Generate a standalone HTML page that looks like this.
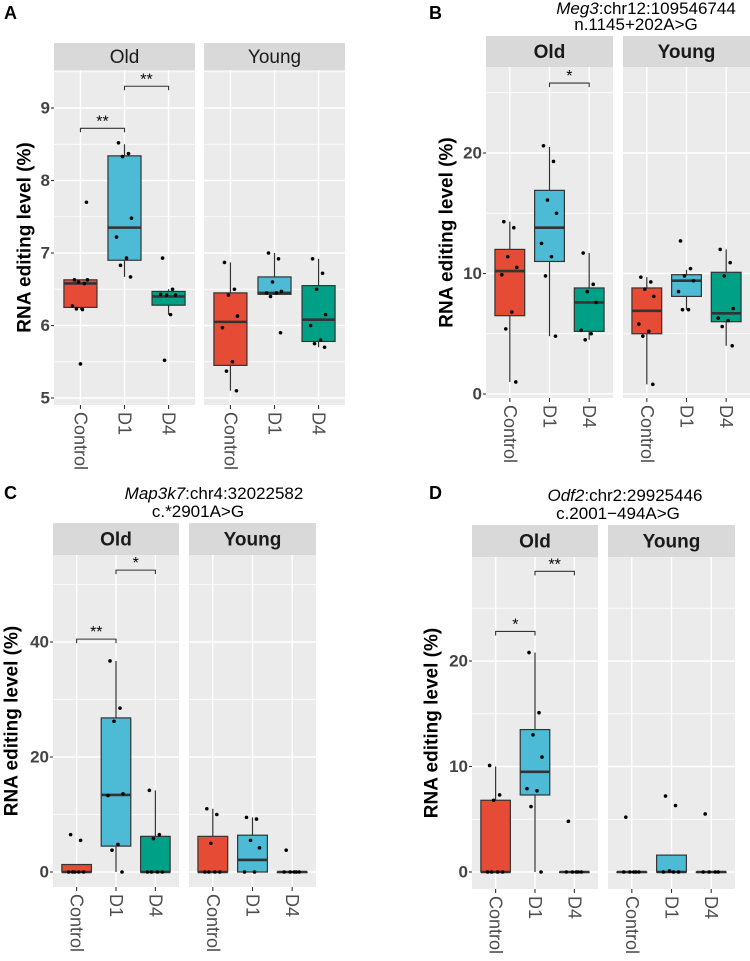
<!DOCTYPE html>
<html><head><meta charset="utf-8">
<style>
html,body{margin:0;padding:0;background:#fff;}
svg{display:block;font-family:"Liberation Sans",Arial,sans-serif;}
</style></head>
<body>
<svg id="fig" width="750" height="961" viewBox="0 0 750 961" xmlns="http://www.w3.org/2000/svg"></svg>
<script>
// ---------- data ----------
const groups = ["Old","Young"];
const categories = ["Control","D1","D4"];
// box stats: [lower whisker, q1, median, q3, upper whisker] per facet x category
const boxA = [[[6.22,6.25,6.58,6.63,6.63],[6.67,6.9,7.35,8.34,8.5],[6.15,6.28,6.4,6.47,6.5]],
              [[5.1,5.45,6.05,6.45,6.87],[6.42,6.43,6.45,6.67,7.0],[5.7,5.78,6.08,6.55,6.92]]];
const ptsA = [[[6.63,6.58,6.6,6.63,6.27,6.22,6.23,7.7,5.47],[8.52,8.37,8.33,7.48,7.22,6.93,6.83,6.67],[6.93,6.5,6.42,6.42,6.43,6.15,5.52]],
              [[6.87,6.5,6.42,6.13,5.97,5.5,5.37,5.1],[7.0,6.92,6.6,6.47,6.45,6.45,6.4,5.9],[6.92,6.72,6.5,6.15,6.0,5.8,5.75,5.7]]];
const boxB = [[[1,6.5,10.2,12,14.3],[4.8,11,13.8,16.9,20.5],[4.5,5.2,7.6,8.8,11.7]],
              [[0.8,5,6.9,8.8,9.7],[7,8.1,9.4,9.9,10.3],[4,6,6.7,10.1,12]]];
const ptsB = [[[14.3,13.8,11.4,10.5,9.9,6.8,5.4,1],[20.6,19.3,16.1,15,12.5,11.4,9.8,4.8],[11.7,9.1,8.5,7.6,5.3,5.0,4.5]],
              [[9.7,9.3,8.7,8.1,5.8,5.2,4.8,0.8],[12.7,10.4,9.8,9.4,8.5,7,7],[12,10.9,9.8,7.1,6.3,6.1,5.6,4]]];
const boxC = [[[0,0,0,1.3,1.3],[0,4.5,13.4,26.8,36.7],[0,0,0,6.2,14.2]],
              [[0,0,0,6.2,11],[0,0,2.1,6.4,9.5],[0,0,0,0,0]]];
const ptsC = [[[6.5,5.5,0,0,0,0,0],[36.7,28.5,26.2,13.6,13.3,4.8,3.8,0],[14.2,6.5,5.8,0,0,0,0]],
              [[11,10,5,0,0,0,0],[9.5,9.2,5.5,4.2,0,0],[3.8,0,0,0,0,0]]];
const boxD = [[[0,0,0,6.8,10],[0,7.3,9.5,13.5,20.8],[0,0,0,0,0]],
              [[0,0,0,0,0],[0,0,0,1.6,1.6],[0,0,0,0,0]]];
const ptsD = [[[10.1,7.3,6.8,0,0,0,0],[20.8,15.1,13,10.9,7.9,7.7,6.2,0],[4.8,0,0,0,0,0]],
              [[5.2,0,0,0,0,0],[7.2,6.3,0.1,0,0,0],[5.5,0,0,0,0]]];
const ticksA = [5,6,7,8,9];
const ticksB = [0,10,20];
const ticksC = [0,20,40];
const ticksD = [0,10,20];
// significance: [fromCat, toCat, yValue, label]
const sigA = [[0,1,8.72,"**"],[1,2,9.3,"**"]];
const sigB = [[1,2,25.8,"*"]];
const sigC = [[0,1,40.5,"**"],[1,2,52.5,"*"]];
const sigD = [[0,1,22.8,"*"],[1,2,28.5,"**"]];

// ---------- layout ----------
const colors = ["#E64B35","#4DBBD5","#00A087"];
const jit = [-6,4,-2,7,-8,2,-4,6,0,-7];
const NS = "http://www.w3.org/2000/svg";
const svg = document.getElementById("fig");
function mk(tag, attrs, parent){const e=document.createElementNS(NS,tag);for(const k in attrs)e.setAttribute(k,attrs[k]);(parent||svg).appendChild(e);return e;}

const panels = [
 {id:"a",letter:"A",lx:4,ly:19,facets:[[54,195],[204,345]],stripTop:43,plotTop:70,plotBot:405,t0:6,p0:325.5,t1:9,p1:108,
  box:boxA,pts:ptsA,ticks:ticksA,sig:sigA,boldStrip:false,ytx:25,title:null},
 {id:"b",letter:"B",lx:429,ly:19,facets:[[486,613],[623,750]],stripTop:36,plotTop:67,plotBot:398,t0:0,p0:394,t1:20,p1:153,
  box:boxB,pts:ptsB,ticks:ticksB,sig:sigB,boldStrip:true,ytx:447,title:["Meg3",":chr12:109546744","n.1145+202A>G",646,636,14,30]},
 {id:"c",letter:"C",lx:4,ly:499,facets:[[53,179],[189,316]],stripTop:523,plotTop:555,plotBot:887,t0:0,p0:872,t1:40,p1:642,
  box:boxC,pts:ptsC,ticks:ticksC,sig:sigC,boldStrip:true,ytx:12,title:["Map3k7",":chr4:32022582","c.*2901A>G",214,198,499,517]},
 {id:"d",letter:"D",lx:429,ly:499,facets:[[472,598],[608,735]],stripTop:525,plotTop:557,plotBot:889,t0:0,p0:872,t1:20,p1:661,
  box:boxD,pts:ptsD,ticks:ticksD,sig:sigD,boldStrip:true,ytx:432,title:["Odf2",":chr2:29925446","c.2001\u2212494A>G",625,618,501,519]}
];

panels.forEach(P=>{
  const g = mk("g",{});
  
  
  const y = v => P.p0 + (v-P.t0)*(P.p1-P.p0)/(P.t1-P.t0);
  const step = P.ticks[1]-P.ticks[0];
  const lt = mk("text",{x:P.lx,y:P.ly,"font-size":18,"font-weight":"bold",fill:"#000"},g);
  lt.textContent=P.letter;
  
  
  if(P.title){
    const t1 = mk("text",{x:P.title[3],y:P.title[5],"font-size":17,"text-anchor":"middle",fill:"#000"},g);
    
    
    const it = mk("tspan",{"font-style":"italic"},t1); it.textContent=P.title[0];
    const rs = mk("tspan",{},t1); rs.textContent=P.title[1];
    const t2 = mk("text",{x:P.title[4],y:P.title[6],"font-size":17,"text-anchor":"middle",fill:"#000"},g);
    t2.textContent=P.title[2];
    
    
  }
  const ym=(P.plotTop+P.plotBot)/2;
  const yt = mk("text",{x:P.ytx,y:ym,"font-size":19,"font-weight":"bold","text-anchor":"middle","dominant-baseline":"central",transform:`rotate(-90 ${P.ytx} ${ym})`,fill:"#000"},g);
  yt.textContent="RNA editing level (%)";
  
  
  const L=P.facets[0][0];
  P.ticks.forEach(t=>{
    const lab = mk("text",{x:L-4,y:y(t),"font-size":17,"font-weight":"bold","text-anchor":"end","dominant-baseline":"central",fill:"#444"},g);
    lab.textContent=t;
    
    
    mk("line",{x1:L-3,x2:L,y1:y(t),y2:y(t),stroke:"#333","stroke-width":1.1},g);
  });
  P.facets.forEach((f,fi)=>{
    const [l,r]=f, W=r-l;
    const xc = i => l + W*(0.6+i)/3.2;
    const bw = 0.75*W/3.2;
    const strip = mk("rect",{x:l,y:P.stripTop,width:W,height:P.plotTop-P.stripTop,fill:"#D9D9D9"},g);
    
    
    const st = mk("text",{x:(l+r)/2,y:(P.stripTop+P.plotTop)/2+1,"font-size":19,"font-weight":P.boldStrip?"bold":"normal","text-anchor":"middle","dominant-baseline":"central",fill:"#1A1A1A"},g);
    st.textContent=groups[fi];
    
    
    const bg = mk("rect",{x:l,y:P.plotTop,width:W,height:P.plotBot-P.plotTop,fill:"#EBEBEB"},g);
    
    
    const vmin=P.t0+(P.plotBot-P.p0)/((P.p1-P.p0)/(P.t1-P.t0));
    const vmax=P.t0+(P.plotTop-P.p0)/((P.p1-P.p0)/(P.t1-P.t0));
    for(let v=P.ticks[0]-step/2; v<=vmax; v+=step/2){
      if(v<vmin) continue;
      const major = Math.abs(((v-P.ticks[0])/step)-Math.round((v-P.ticks[0])/step))<1e-6;
      mk("line",{x1:l,x2:r,y1:y(v),y2:y(v),stroke:"#fff","stroke-width":major?1.4:0.7},g);
    }
    categories.forEach((c,i)=>{
      mk("line",{x1:xc(i),x2:xc(i),y1:P.plotTop,y2:P.plotBot,stroke:"#fff","stroke-width":1.4},g);
    });
    categories.forEach((c,i)=>{
      const b=P.box[fi][i], x=xc(i);
      const bx = mk("g",{},g);
      
      
      mk("line",{x1:x,x2:x,y1:y(b[4]),y2:y(b[3]),stroke:"#333","stroke-width":1.2},bx);
      mk("line",{x1:x,x2:x,y1:y(b[1]),y2:y(b[0]),stroke:"#333","stroke-width":1.2},bx);
      mk("rect",{x:x-bw/2,y:y(b[3]),width:bw,height:Math.max(0.5,y(b[1])-y(b[3])),fill:colors[i],stroke:"#333","stroke-width":1.2},bx);
      mk("line",{x1:x-bw/2,x2:x+bw/2,y1:y(b[2]),y2:y(b[2]),stroke:"#333","stroke-width":2.6},bx);
      P.pts[fi][i].forEach((v,k)=>{
        const d = mk("circle",{cx:x+jit[k%jit.length],cy:y(v),r:1.8,fill:"#000"},bx);
        
        
      });
      mk("line",{x1:x,x2:x,y1:P.plotBot,y2:P.plotBot+4,stroke:"#333","stroke-width":1.1},g);
      const xt = mk("text",{x:x,y:P.plotBot+7,"font-size":18,"dominant-baseline":"central",transform:`rotate(90 ${x} ${P.plotBot+7})`,fill:"#4D4D4D"},g);
      xt.textContent=c;
      
      
    });
    if(fi===0){
      P.sig.forEach(s=>{
        const sg = mk("g",{},g);
        
        
        const x1=xc(s[0]),x2=xc(s[1]),yy=y(s[2]);
        mk("path",{d:`M${x1} ${yy+4}V${yy}H${x2}V${yy+4}`,fill:"none",stroke:"#333","stroke-width":1.1},sg);
        const tx = mk("text",{x:(x1+x2)/2,y:yy-2,"font-size":16,"text-anchor":"middle",fill:"#000"},sg);
        tx.textContent=s[3];
      });
    }
  });
});
</script>
</body></html>
